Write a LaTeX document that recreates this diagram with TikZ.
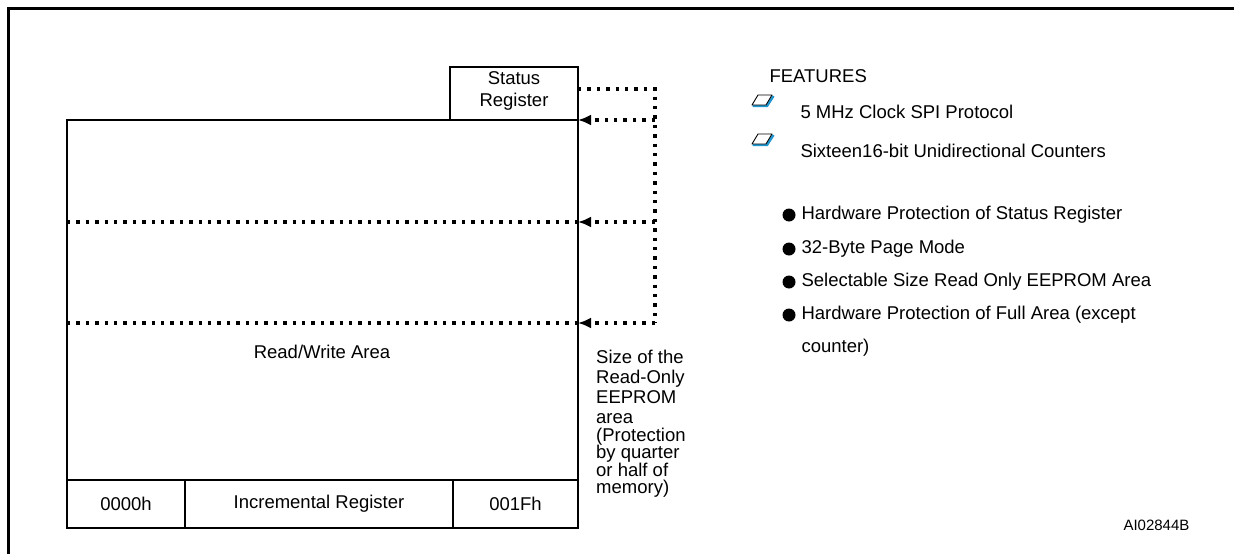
\documentclass[tikz,border=0pt]{standalone}
\usepackage{fontspec}
\setmainfont{Liberation Sans}
\usetikzlibrary{arrows.meta}
\definecolor{iconblue}{RGB}{30,150,210}

% small 3d check box in front of a feature
\newcommand\featicon[1]{%
  \begin{scope}[shift={(#1)}]
    \draw[line width=2.4pt,iconblue] (0.5,11) -- (15,11) -- (21.5,1);
    \draw[line width=0.9pt,fill=white,line join=round] (0,10) -- (14,10) -- (20,0) -- (6,0) -- cycle;
  \end{scope}}

\begin{document}
\begin{tikzpicture}[x=1pt,y=-1pt,
  box/.style={draw,line width=2.8pt,inner sep=0pt,outer sep=0pt,anchor=north west},
  dotline/.style={line width=3.4pt,dash pattern=on 3.4pt off 6pt},
  tip/.style={-{Latex[length=13pt,width=11pt]}},
  txt/.style={font=\fontsize{18.5}{20}\selectfont}]
\useasboundingbox (0,0) rectangle (1234,554);

% frame
\draw[line width=3pt] (8,554) -- (8,8) -- (1234,8);

% memory map
\node[box,minimum width=128pt,minimum height=53pt] (sr) at (450,67) {};
\node[txt,align=center] (srtxt) at ([yshift=3pt]sr.center) {Status\\[2pt]Register};
\node[box,minimum width=511pt,minimum height=360pt] (mem) at (67,120) {};
\node[box,minimum width=118pt,minimum height=48pt,txt] (lo) at (67,480) {0000h};
\node[box,minimum width=268pt,minimum height=48pt,txt] (inc) at (lo.north east) {Incremental Register};
\node[box,minimum width=125pt,minimum height=48pt,txt] (hi) at (inc.north east) {001Fh};

% protection boundaries
\coordinate (bus) at (655,89);
\coordinate (q1) at (67,222);
\coordinate (q2) at (67,323);
\draw[dotline] (sr.east |- bus) -- (bus) -- (bus |- q2);
\draw[dotline,tip] (bus |- mem.north) -- (mem.north east);
\draw[dotline,tip] (bus |- q1) -- (mem.east |- q1);
\draw[dotline,tip] (bus |- q2) -- (mem.east |- q2);
\draw[dotline] (q1) -- (mem.east |- q1);
\draw[dotline] (q2) -- (mem.east |- q2);

\node[txt] (rw) at (322,352) {Read/Write Area};
\node[txt,align=left,anchor=north west,inner sep=0pt] (ro) at (596,350)
  {Size of the\\Read-Only\\EEPROM\\area\\[-2.5pt](Protection\\[-2.5pt]by quarter\\[-2.5pt]or half of\\[-2.5pt]memory)};

% features
\node[txt,anchor=west] (feat) at (766,76) {FEATURES};
\featicon{752,95}
\node[txt,anchor=west] (f1) at (797,112) {5 MHz Clock SPI Protocol};
\featicon{752,134}
\node[txt,anchor=west] (f2) at (797,151) {Sixteen16-bit Unidirectional Counters};

\foreach \y/\t [count=\i] in {215/Hardware Protection of Status Register,
    249/32-Byte Page Mode, 282/Selectable Size Read Only EEPROM Area,
    315/Hardware Protection of Full Area (except} {
  \fill (789,\y) circle (6.5pt);
  \node[txt,anchor=west] (b\i) at (798,\y) {\t};
}
\node[txt,anchor=west] (b5) at (798,348) {counter)};

\node[font=\fontsize{15}{17}\selectfont,anchor=west] (id) at (1120,525) {AI02844B};
\end{tikzpicture}
\end{document}
